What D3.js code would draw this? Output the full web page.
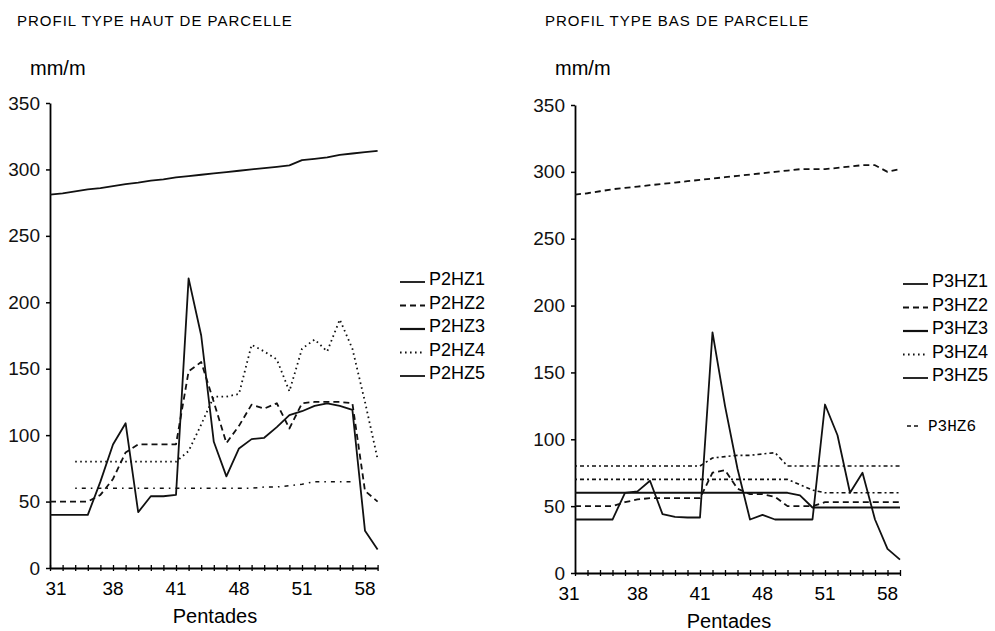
<!DOCTYPE html>
<html>
<head>
<meta charset="utf-8">
<script src="https://cdn.jsdelivr.net/npm/d3@7"></script>
<style>
  body { margin: 0; background: #fff; }
  svg { display: block; font-family: "Liberation Sans", Arial, sans-serif; }
  .tick text { font-size: 19px; fill: #111; }
  .title { font-size: 15px; letter-spacing: 1px; }
  .unit { font-size: 20px; }
  .xlab { font-size: 19px; }
  .leg { font-size: 18px; }
  .leg-mono { font-family: "Liberation Mono", monospace; font-size: 16px; }
</style>
</head>
<body>
<svg id="chart" width="995" height="631"></svg>
<script>
// pentades shown on each panel
const pentades = [31,32,33,34,35,36,37,38,39,40,41,42,43,44,45,46,47,48,49,50,51,52,53,54,55,56,57];
const xTickText = ["31", "38", "41", "48", "51", "58"];
const xTickAt   = [31, 36, 41, 46, 51, 56];
const yTicks = [0, 50, 100, 150, 200, 250, 300, 350];

// PROFIL TYPE HAUT DE PARCELLE (mm/m)
const P2HZ1 = [281,282,283.5,285,286,287.5,289,290,291.5,292.5,294,295,296,297,298,299,300,301,302,303,307,308,309,311,312,313,314];
const P2HZ2 = [50,50,50,50,55,67,87,93,93,93,93,148,155,125,94,107,123,120,124,105,124,125,125,125,124,58,50];
const P2HZ3 = [null,null,60,60,60,60,60,60,60,60,60,60,60,60,60,60,60,61,61,62,63,65,65,65,65,null,null];
const P2HZ4 = [null,null,80,80,80,80,80,80,80,80,80,88,108,129,129,131,168,163,157,133,165,172,163,187,165,125,82];
const P2HZ5 = [40,40,40,40,65,93,109,42,54,54,55,218,175,95,69,90,97,98,106,115,118,122,124,122,119,28,14];

// PROFIL TYPE BAS DE PARCELLE (mm/m)
const P3HZ1 = [60,60,60,60,60,60,60,60,60,60,60,60,60,60,60,60,60,60,58,49,49,49,49,49,49,49,49];
const P3HZ2 = [50,50,50,50,53,55,56,56,56,56,56,75,77,63,59,59,57,50,50,50,53,53,53,53,53,53,53];
const P3HZ3 = [70,70,70,70,70,70,70,70,70,70,70,70,70,70,70,70,70,70,66,62,60,60,60,60,60,60,60];
const P3HZ4 = [80,80,80,80,80,80,80,80,80,80,80,86,87,88,88,89,90,80,80,80,80,80,80,80,80,80,80];
const P3HZ5 = [40,40,40,40,60,61,69,44,42,41.5,41.5,180,125,78,40,43.5,40,40,40,40,126,103,60,75,40,18,10];
const P3HZ6 = [283,284,285.5,287,288,289,290,291,292,293,294,295,296,297,298,299,300,301,302,302,302,303,304,305,305,300,302];

const STYLES = {
  solid:  { dash: null,        width: 1.8 },
  thick:  { dash: null,        width: 2.2 },
  dashed: { dash: "6,4",       width: 1.8 },
  dotted: { dash: "1.6,3.4",   width: 1.8 },
  faint:  { dash: "1.6,5,4,5", width: 1.5 },
  dashdot:{ dash: "2,3,4,3",   width: 1.6 },
  short:  { dash: "4,3",       width: 1.6 }
};

const svg = d3.select("#chart");

function panel(cfg) {
  const x = d3.scaleLinear()
    .domain([pentades[0], pentades[pentades.length - 1]])
    .range([cfg.x0, cfg.x0 + (pentades.length - 1) * cfg.step]);
  const y = d3.scaleLinear().domain([0, 350]).range([cfg.y0, cfg.yTop]);

  const g = svg.append("g");

  g.append("text").attr("class", "title")
    .attr("x", cfg.titleX).attr("y", 26).text(cfg.title);
  g.append("text").attr("class", "unit")
    .attr("x", cfg.x0 - 20).attr("y", 75).text("mm/m");

  // y axis
  const ya = g.append("g")
    .attr("transform", `translate(${cfg.x0},0)`)
    .call(d3.axisLeft(y).tickValues(yTicks).tickSize(4).tickSizeOuter(0).tickPadding(6));
  ya.select(".domain").attr("stroke-width", 1.8);
  ya.selectAll(".tick line").attr("stroke-width", 1.5);

  // x axis, ticks crossing the line
  const xa = g.append("g")
    .attr("transform", `translate(0,${cfg.y0})`)
    .call(d3.axisBottom(x).tickValues(pentades).tickSize(3).tickSizeOuter(0).tickFormat(""));
  xa.select(".domain").attr("stroke-width", 1.8);
  xa.selectAll(".tick line").attr("y1", -3).attr("y2", 3).attr("stroke-width", 1.3);

  xTickAt.forEach((p, i) => {
    g.append("text").attr("class", "xlab")
      .attr("x", x(p) + (i === 0 ? cfg.firstLabelShift : 0))
      .attr("y", cfg.y0 + 27)
      .attr("text-anchor", "middle")
      .text(xTickText[i]);
  });
  g.append("text").attr("class", "xlab")
    .attr("x", cfg.pentadesLabelX).attr("y", cfg.y0 + 55)
    .attr("text-anchor", "middle").style("font-size", "20px")
    .text("Pentades");

  const line = d3.line()
    .defined(d => d.v != null)
    .x(d => x(d.p))
    .y(d => y(d.v));

  cfg.series.forEach(s => {
    const st = STYLES[s.style];
    g.append("path")
      .datum(s.values.map((v, i) => ({ p: pentades[i], v })))
      .attr("fill", "none")
      .attr("stroke", "#111")
      .attr("stroke-width", st.width)
      .attr("stroke-dasharray", st.dash)
      .attr("stroke-linejoin", "round")
      .attr("d", line);
  });

  // legend: five stacked entries, then an extra one further down
  cfg.series.forEach((s, i) => {
    const st = STYLES[s.legStyle];
    if (i < 5) {
      const ly = cfg.legY + i * 23.5;
      g.append("line")
        .attr("x1", cfg.legX).attr("x2", cfg.legX + 25)
        .attr("y1", ly + 4).attr("y2", ly + 4)
        .attr("stroke", "#111").attr("stroke-width", st.width)
        .attr("stroke-dasharray", st.dash);
      g.append("text").attr("class", "leg")
        .attr("x", cfg.legX + 29).attr("y", ly + 7)
        .text(s.name);
    } else {
      const ly = cfg.legY + 146;
      g.append("line")
        .attr("x1", cfg.legX + 4).attr("x2", cfg.legX + 18)
        .attr("y1", ly).attr("y2", ly)
        .attr("stroke", "#111").attr("stroke-width", st.width)
        .attr("stroke-dasharray", st.dash);
      g.append("text").attr("class", "leg-mono")
        .attr("x", cfg.legX + 25).attr("y", ly + 5)
        .text(s.name);
    }
  });
}

panel({
  title: "PROFIL TYPE HAUT DE PARCELLE", titleX: 17,
  x0: 50, step: 12.6, y0: 568, yTop: 103,
  firstLabelShift: 6, pentadesLabelX: 215, legX: 400, legY: 278,
  series: [
    { name: "P2HZ1", values: P2HZ1, style: "solid",  legStyle: "solid" },
    { name: "P2HZ2", values: P2HZ2, style: "dashed", legStyle: "dashed" },
    { name: "P2HZ3", values: P2HZ3, style: "faint",  legStyle: "thick" },
    { name: "P2HZ4", values: P2HZ4, style: "dotted", legStyle: "dotted" },
    { name: "P2HZ5", values: P2HZ5, style: "solid",  legStyle: "solid" }
  ]
});

panel({
  title: "PROFIL TYPE BAS DE PARCELLE", titleX: 545,
  x0: 575, step: 12.5, y0: 573, yTop: 105,
  firstLabelShift: -6, pentadesLabelX: 729, legX: 903, legY: 280,
  series: [
    { name: "P3HZ1", values: P3HZ1, style: "solid",   legStyle: "solid" },
    { name: "P3HZ2", values: P3HZ2, style: "dashed",  legStyle: "dashed" },
    { name: "P3HZ3", values: P3HZ3, style: "dashdot", legStyle: "thick" },
    { name: "P3HZ4", values: P3HZ4, style: "dashdot", legStyle: "dotted" },
    { name: "P3HZ5", values: P3HZ5, style: "solid",   legStyle: "solid" },
    { name: "P3HZ6", values: P3HZ6, style: "dashed",  legStyle: "short" }
  ]
});
</script>
</body>
</html>
